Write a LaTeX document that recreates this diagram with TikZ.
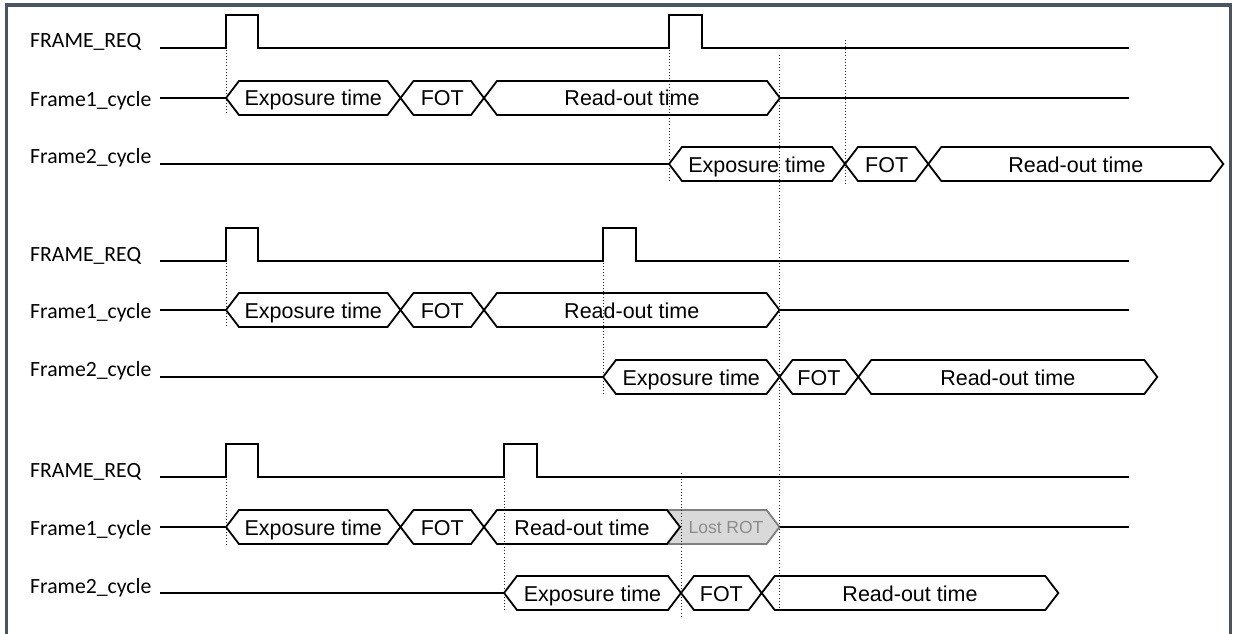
\documentclass[tikz,border=0pt]{standalone}
\usepackage{fontspec}
\setmainfont{Liberation Sans}
\newfontfamily\lblfont{Carlito}
\definecolor{framecol}{RGB}{74,85,97}
\definecolor{lostfill}{RGB}{217,217,217}
\definecolor{lostedge}{RGB}{128,128,128}
\definecolor{losttext}{RGB}{140,140,140}
\tikzset{
  sig/.style={line width=2pt, line join=miter, draw=black},
  bus/.style={line width=1.8pt, line join=miter, draw=black, fill=white},
  lostbox/.style={line width=1.8pt, line join=miter, draw=lostedge, fill=lostfill},
  guide/.style={line width=0.7pt, dash pattern=on 0.7pt off 2.4pt, draw=black!85},
  lbl/.style={anchor=base west, inner sep=0pt, font=\lblfont\fontsize{21.7}{24}\selectfont},
  btxt/.style={anchor=base, inner sep=0pt, font=\fontsize{21.5}{24}\selectfont},
  ltxt/.style={anchor=base, inner sep=0pt, text=losttext, font=\fontsize{17.5}{20}\selectfont},
  border/.style={line width=3.4pt, draw=framecol, line join=miter}
}
% #1 left x, #2 right x, #3 mid y, #4 text, #5 name
\newcommand{\busbox}[5]{%
  \draw[bus] (#1,#3) -- ({#1+13},{#3-17}) -- ({#2-13},{#3-17}) -- (#2,#3)
    -- ({#2-13},{#3+17}) -- ({#1+13},{#3+17}) -- cycle;
  \node[btxt] (#5) at ({(#1+#2)/2},{#3+8}) {#4};
}
\begin{document}
\begin{tikzpicture}[x=1pt,y=-1pt]
\useasboundingbox (0,0) rectangle (1237,634);
\fill[white] (0,0) rectangle (1237,634);
\draw[border] (6.7,634) -- (6.7,5) -- (1230.5,5) -- (1230.5,634);

% ================= Section 1 =================
\node[lbl] (req1) at (30,48) {FRAME\_REQ};
\node[lbl] (fa1) at (30,106.5) {Frame1\_cycle};
\node[lbl] (fb1) at (30,163.5) {Frame2\_cycle};
\coordinate (req1s) at (160,48);
\coordinate (req1e) at (1129,48);
\draw[sig] (req1s) -- (226,48) -- (226,15) -- (258,15) -- (258,48) -- (669,48)
  -- (669,15) -- (702,15) -- (702,48) -- (req1e);
\coordinate (fa1s) at (160,98);
\coordinate (fa1p) at (226,98);
\draw[sig] (fa1s) -- (fa1p);
\busbox{226}{400.5}{98}{Exposure time}{e11}
\busbox{400.5}{484}{98}{FOT}{f11}
\busbox{484}{780}{98}{Read-out time}{r11}
\coordinate (fa1q) at (780,98);
\coordinate (fa1e) at (1129,98);
\draw[sig] (fa1q) -- (fa1e);
\coordinate (fb1s) at (160,164);
\coordinate (fb1p) at (669,164);
\draw[sig] (fb1s) -- (fb1p);
\busbox{669}{845}{164}{Exposure time}{e12}
\busbox{845}{928.3}{164}{FOT}{f12}
\busbox{928.3}{1223.3}{164}{Read-out time}{r12}

% ================= Section 2 =================
\node[lbl] (req2) at (30,261) {FRAME\_REQ};
\node[lbl] (fa2) at (30,318.5) {Frame1\_cycle};
\node[lbl] (fb2) at (30,376.5) {Frame2\_cycle};
\coordinate (req2s) at (160,261);
\coordinate (req2e) at (1129,261);
\draw[sig] (req2s) -- (226,261) -- (226,228) -- (258,228) -- (258,261) -- (603,261)
  -- (603,228) -- (636,228) -- (636,261) -- (req2e);
\coordinate (fa2s) at (160,310);
\coordinate (fa2p) at (226,310);
\draw[sig] (fa2s) -- (fa2p);
\busbox{226}{400.5}{310}{Exposure time}{e21}
\busbox{400.5}{484}{310}{FOT}{f21}
\busbox{484}{779.5}{310}{Read-out time}{r21}
\coordinate (fa2q) at (779.5,310);
\coordinate (fa2e) at (1129,310);
\draw[sig] (fa2q) -- (fa2e);
\coordinate (fb2s) at (160,377);
\coordinate (fb2p) at (603,377);
\draw[sig] (fb2s) -- (fb2p);
\busbox{603}{779.5}{377}{Exposure time}{e22}
\busbox{779.5}{858.3}{377}{FOT}{f22}
\busbox{858.3}{1157.3}{377}{Read-out time}{r22}

% ================= Section 3 =================
\node[lbl] (req3) at (30,477) {FRAME\_REQ};
\node[lbl] (fa3) at (30,535.5) {Frame1\_cycle};
\node[lbl] (fb3) at (30,593.5) {Frame2\_cycle};
\coordinate (req3s) at (160,477);
\coordinate (req3e) at (1129,477);
\draw[sig] (req3s) -- (226,477) -- (226,444) -- (258,444) -- (258,477) -- (504,477)
  -- (504,444) -- (537,444) -- (537,477) -- (req3e);
\coordinate (fa3s) at (160,527);
\coordinate (fa3p) at (226,527);
\draw[sig] (fa3s) -- (fa3p);
\draw[lostbox] (667,510) -- (766.5,510) -- (779.5,527) -- (766.5,544) -- (667,544) -- (680,527) -- cycle;
\node[ltxt] (lost) at (726,533.5) {Lost ROT};
\busbox{226}{400.5}{527}{Exposure time}{e31}
\busbox{400.5}{484}{527}{FOT}{f31}
\busbox{484}{680}{527}{Read-out time}{r31}
\coordinate (fa3q) at (779.5,527);
\coordinate (fa3e) at (1129,527);
\draw[sig] (fa3q) -- (fa3e);
\coordinate (fb3s) at (160,593);
\coordinate (fb3p) at (504,593);
\draw[sig] (fb3s) -- (fb3p);
\busbox{504}{681}{593}{Exposure time}{e32}
\busbox{681}{761.7}{593}{FOT}{f32}
\busbox{761.7}{1058.3}{593}{Read-out time}{r32}

% ================= guides =================
\draw[guide] (226,50) -- (226,115);
\draw[guide] (669,50) -- (669,183);
\draw[guide] (845,40) -- (845,183);
\draw[guide] (779.5,55) -- (779.5,611);
\draw[guide] (226,263) -- (226,328);
\draw[guide] (603,263) -- (603,395);
\draw[guide] (226,479) -- (226,545);
\draw[guide] (504,479) -- (504,611);
\draw[guide] (681,473) -- (681,617);
\end{tikzpicture}
\end{document}
